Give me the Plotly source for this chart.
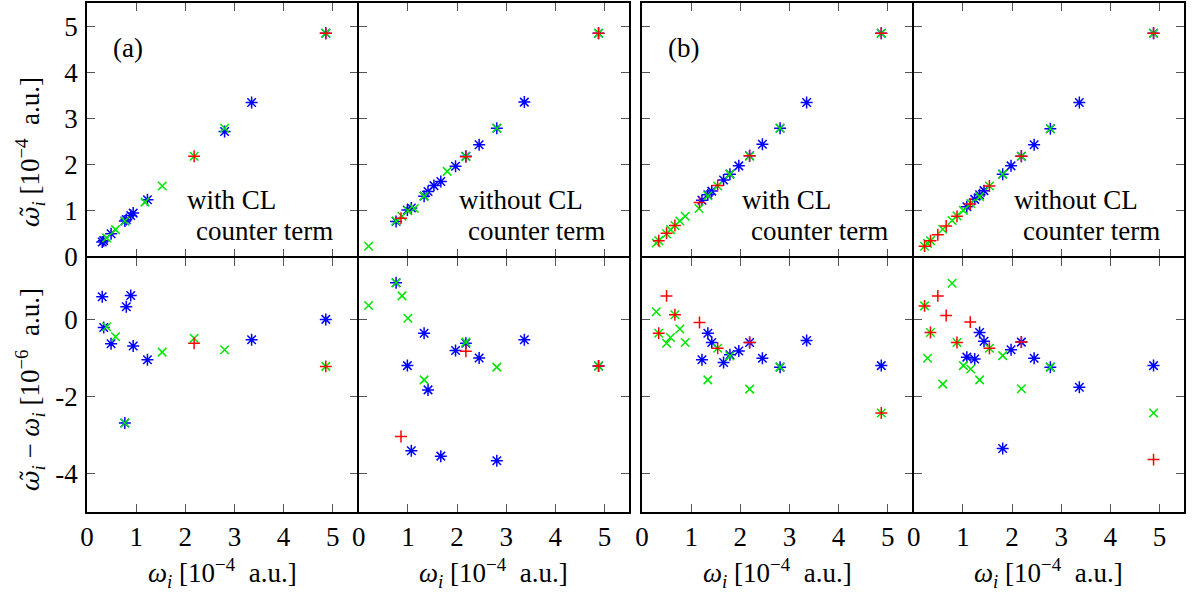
import plotly.graph_objects as go

W, H = 1192, 592

# ---------------- data (omega in 1e-4 a.u., delta in 1e-6 a.u.) ----------------
# column (a): with CL counter term
a_blue_w  = [0.31, 0.34, 0.49, 0.77, 0.80, 0.89, 0.94, 1.23, 2.80, 3.35, 4.86]
a_blue_wt = [0.31, 0.34, 0.49, 0.77, 0.80, 0.89, 0.94, 1.23, 2.72, 3.35, 4.86]
a_blue_d  = [0.59, -0.21, -0.63, -2.69, 0.33, 0.62, -0.69, -1.05, None, -0.53, 0.00]
a_green_w  = [0.40, 0.58, 0.77, 1.18, 1.53, 2.18, 2.80, 4.86]
a_green_wt = [0.40, 0.58, 0.77, 1.18, 1.53, 2.18, 2.79, 4.86]
a_green_d  = [-0.19, -0.45, -2.69, None, -0.85, -0.49, -0.79, -1.22]
a_red_w  = [2.18, 4.86]
a_red_wt = [2.18, 4.86]
a_red_d  = [-0.62, -1.22]

# column 2: without CL counter term
b_blue_w  = [0.76, 0.99, 1.07, 1.33, 1.41, 1.53, 1.67, 1.97, 2.18, 2.45, 2.81, 3.37, 4.88]
b_blue_wt = [0.76, 1.01, 1.05, 1.31, 1.41, 1.54, 1.63, 1.96, 2.18, 2.43, 2.79, 3.36, 4.86]
b_blue_d  = [0.95, -1.20, -3.41, -0.36, -1.83, None, -3.55, -0.81, -0.62, -1.00, -3.67, -0.53, -1.21]
b_green_w  = [0.20, 0.76, 0.88, 1.00, 1.13, 1.33, 1.80, 2.18, 2.81, 4.88]
b_green_wt = [0.22, 0.77, 0.87, 0.99, 1.04, 1.31, 1.85, 2.17, 2.79, 4.86]
b_green_d  = [0.36, 0.95, 0.61, 0.03, None, -1.57, None, -0.59, -1.24, -1.21]
b_red_w  = [0.86, 2.18, 4.88]
b_red_wt = [0.83, 2.17, 4.86]
b_red_d  = [-3.04, -0.83, -1.21]

# column (b): with CL counter term
c_blue_w  = [1.22, 1.34, 1.42, 1.66, 1.79, 1.97, 2.19, 2.45, 2.81, 3.35, 4.87]
c_blue_wt = [1.22, 1.34, 1.42, 1.66, 1.79, 1.97, 2.19, 2.44, 2.79, 3.35, 4.86]
c_blue_d  = [-1.05, -0.36, -0.60, -1.12, -0.92, -0.82, -0.60, -1.01, -1.24, -0.55, -1.20]
c_green_w  = [0.29, 0.34, 0.50, 0.58, 0.67, 0.77, 0.88, 1.16, 1.34, 1.54, 1.79, 2.19, 2.81, 4.87]
c_green_wt = [0.29, 0.34, 0.49, 0.58, 0.67, 0.77, 0.87, 1.04, 1.32, 1.53, 1.79, 2.18, 2.79, 4.86]
c_green_d  = [0.20, -0.36, -0.62, -0.47, 0.12, -0.25, -0.60, None, -1.57, -0.75, -0.95, -1.81, -1.24, -2.43]
c_red_w  = [0.34, 0.50, 0.67, 1.17, 1.54, 2.19, 4.87]
c_red_wt = [0.34, 0.50, 0.67, 1.17, 1.54, 2.19, 4.86]
c_red_d  = [-0.36, 0.61, 0.12, -0.08, -0.75, -0.60, -2.43]

# column 4: without CL counter term
d_blue_w  = [1.08, 1.24, 1.34, 1.43, 1.81, 1.98, 2.19, 2.45, 2.78, 3.37, 4.88]
d_blue_wt = [1.08, 1.24, 1.34, 1.43, 1.79, 1.97, 2.18, 2.43, 2.78, 3.35, 4.86]
d_blue_d  = [-0.98, -1.03, -0.34, -0.57, -3.35, -0.79, -0.59, -1.01, -1.24, -1.76, -1.20]
d_green_w  = [0.22, 0.28, 0.34, 0.59, 0.78, 0.88, 1.01, 1.16, 1.34, 1.54, 1.81, 2.19, 2.78, 4.88]
d_green_wt = [0.22, 0.28, 0.34, 0.59, 0.78, 0.88, 1.00, 1.15, 1.30, 1.53, 1.79, 2.18, 2.78, 4.86]
d_green_d  = [0.35, -1.01, -0.34, -1.68, 0.94, -0.60, -1.20, -1.29, -1.57, -0.75, -0.94, -1.80, -1.24, -2.43]
d_red_w  = [0.22, 0.34, 0.49, 0.66, 0.88, 1.15, 1.54, 2.19, 4.88]
d_red_wt = [0.22, 0.34, 0.47, 0.66, 0.87, 1.14, 1.53, 2.18, 4.86]
d_red_d  = [0.35, -0.34, 0.61, 0.10, -0.60, -0.07, -0.75, -0.59, -3.64]

x_tickvals = [0, 1, 2, 3, 4, 5]
x_ticktext = ["0", "1", "2", "3", "4", "5"]
up_tickvals = [0, 1, 2, 3, 4, 5]
up_ticktext = ["0", "1", "2", "3", "4", "5"]
lo_tickvals = [-4, -2, 0]
lo_ticktext = ["-4", "-2", "0"]

panel_tags = ["(a)", "", "(b)", ""]
note_line1 = ["with CL", "without CL", "with CL", "without CL"]
note_line2 = ["counter term", "counter term", "counter term", "counter term"]

WT = '<span style="font-family:DejaVu Serif;font-style:italic;font-size:25px">ω\u0303</span>'
x_title = "<i>ω</i><sub><i>i</i></sub> [10<sup>−4</sup>\u00a0\u00a0a.u.]"
y_title_up = WT + "<sub><i>i</i></sub> [10<sup>−4</sup>\u00a0\u00a0a.u.]"
y_title_lo = WT + "<sub><i>i</i></sub> − <i>ω</i><sub><i>i</i></sub> [10<sup>−6</sup>\u00a0\u00a0a.u.]"

# ---------------- styling / layout ----------------
FONT = "Liberation Serif"
FS = 27
BLUE, GREEN, RED = "#0000ff", "#00e600", "#ff0000"
LW = 1.5

columns = [
    [(a_blue_w, a_blue_wt, a_blue_d), (a_green_w, a_green_wt, a_green_d), (a_red_w, a_red_wt, a_red_d)],
    [(b_blue_w, b_blue_wt, b_blue_d), (b_green_w, b_green_wt, b_green_d), (b_red_w, b_red_wt, b_red_d)],
    [(c_blue_w, c_blue_wt, c_blue_d), (c_green_w, c_green_wt, c_green_d), (c_red_w, c_red_wt, c_red_d)],
    [(d_blue_w, d_blue_wt, d_blue_d), (d_green_w, d_green_wt, d_green_d), (d_red_w, d_red_wt, d_red_d)],
]
styles = [("asterisk-open", 10, BLUE), ("x-thin-open", 8.5, GREEN), ("cross-thin-open", 8.5, RED)]

# plot-area edges (pixels); adjacent panels are set so that their frame lines coincide
col_px = [(87, 358 - LW / 2), (358 + LW / 2, 629), (642, 913 - LW / 2), (913 + LW / 2, 1184)]
row_px = [(3, 257 - LW / 2), (257 + LW / 2, 512)]

fig = go.Figure()
layout = dict(
    width=W, height=H, margin=dict(l=0, r=0, t=0, b=0, autoexpand=False),
    paper_bgcolor="white", plot_bgcolor="white", showlegend=False,
    font=dict(family=FONT, size=FS, color="black"),
)
annotations = []

for c in range(4):
    for r in range(2):
        k = r * 4 + c + 1
        xs = "" if k == 1 else str(k)
        for (w, wt, d), (sym, sz, col) in zip(columns[c], styles):
            fig.add_trace(go.Scatter(
                x=w, y=(wt if r == 0 else d), mode="markers",
                marker=dict(symbol=sym, size=sz, color=col, line=dict(color=col, width=1.5)),
                xaxis="x" + xs, yaxis="y" + xs, cliponaxis=True, hoverinfo="skip",
            ))
        xl, xr = col_px[c]
        yt, yb = row_px[r]
        common = dict(showline=True, linecolor="black", linewidth=LW, mirror="ticks",
                      ticks="inside", ticklen=8, tickwidth=1.3, tickcolor="#555555",
                      showgrid=False, zeroline=False, fixedrange=True, automargin=False,
                      tickfont=dict(family=FONT, size=FS, color="black"))
        layout["xaxis" + xs] = dict(
            domain=[xl / W, xr / W], range=[0, 5.5], anchor="y" + xs,
            tickmode="array", tickvals=x_tickvals, ticktext=x_ticktext,
            showticklabels=(r == 1), ticklabelstandoff=0, **common)
        if r == 0:
            yr, tv, tt = [0, 5.52], up_tickvals, up_ticktext
        else:
            yr, tv, tt = [-5, 1.6], lo_tickvals, lo_ticktext
        layout["yaxis" + xs] = dict(
            domain=[1 - yb / H, 1 - yt / H], range=yr, anchor="x" + xs,
            tickmode="array", tickvals=tv, ticktext=tt,
            showticklabels=(c == 0), ticklabelstandoff=2, **common)

    xl, xr = col_px[c]
    if panel_tags[c]:
        annotations.append(dict(text=panel_tags[c], x=(xl + 41) / W, y=1 - 48 / H,
                                xref="paper", yref="paper", showarrow=False,
                                xanchor="center", yanchor="middle"))
    annotations.append(dict(text=note_line1[c], x=(xl + 98) / W, y=1 - 200 / H,
                            xref="paper", yref="paper", showarrow=False,
                            xanchor="left", yanchor="middle"))
    annotations.append(dict(text=note_line2[c], x=(xl + 107) / W, y=1 - 231 / H,
                            xref="paper", yref="paper", showarrow=False,
                            xanchor="left", yanchor="middle"))
    annotations.append(dict(text=x_title, x=(xl + xr) / 2 / W, y=1 - 573 / H,
                            xref="paper", yref="paper", showarrow=False,
                            xanchor="center", yanchor="middle"))

annotations.append(dict(text=y_title_up, x=30 / W, y=1 - 152 / H, textangle=-90,
                        xref="paper", yref="paper", showarrow=False,
                        xanchor="center", yanchor="middle"))
annotations.append(dict(text=y_title_lo, x=30 / W, y=1 - 390 / H, textangle=-90,
                        xref="paper", yref="paper", showarrow=False,
                        xanchor="center", yanchor="middle"))
layout["annotations"] = annotations
fig.update_layout(**layout)
fig.write_html("out.html")
